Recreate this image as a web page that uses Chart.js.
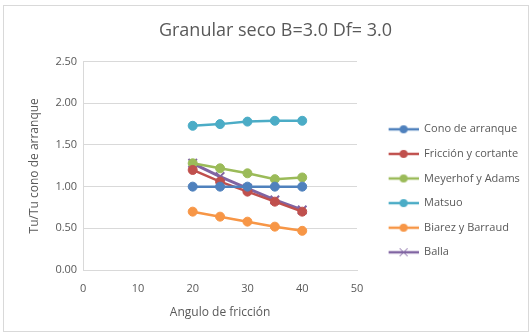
<!DOCTYPE html>
<html>
<head>
<meta charset="utf-8">
<script src="https://cdn.jsdelivr.net/npm/chart.js@4.4.1/dist/chart.umd.min.js"></script>
<style>
  html, body { margin: 0; padding: 0; background: #fff; }
  #wrap { position: absolute; left: 3px; top: 5px; width: 526px; height: 327px; border: 1px solid #d9d9d9; box-sizing: border-box; }
</style>
</head>
<body>
<div id="wrap"><canvas id="myChart"></canvas></div>
<script>
// angulo de friccion
var angulos = [20, 25, 30, 35, 40];

var cono     = [1.00, 1.00, 1.00, 1.00, 1.00];
var friccion = [1.20, 1.06, 0.94, 0.82, 0.70];
var meyerhof = [1.28, 1.22, 1.16, 1.09, 1.11];
var matsuo   = [1.73, 1.75, 1.78, 1.79, 1.79];
var biarez   = [0.70, 0.64, 0.58, 0.52, 0.47];
var balla    = [1.28, 1.12, 0.98, 0.84, 0.72];

var nombres = ["Cono de arranque", "Fricción y cortante", "Meyerhof y Adams", "Matsuo", "Biarez y Barraud", "Balla"];
var colores = ["#4F81BD", "#C0504D", "#9BBB59", "#4BACC6", "#F79646", "#8064A2"];
var series = [cono, friccion, meyerhof, matsuo, biarez, balla];

function pts(vals) {
  return vals.map(function (v, i) { return { x: angulos[i], y: v }; });
}

// line+marker icons for the legend (blank space on the left = gap to plot)
var ICON_W = 48;
function legendIcon(color, cross) {
  var c = document.createElement("canvas");
  c.width = ICON_W; c.height = 10;
  var ctx = c.getContext("2d");
  ctx.strokeStyle = color;
  ctx.lineWidth = 2.5;
  ctx.beginPath(); ctx.moveTo(18, 5); ctx.lineTo(48, 5); ctx.stroke();
  if (cross) {
    ctx.lineWidth = 1;
    ctx.beginPath();
    ctx.moveTo(29, 1); ctx.lineTo(37, 9);
    ctx.moveTo(37, 1); ctx.lineTo(29, 9);
    ctx.stroke();
  } else {
    ctx.fillStyle = color;
    ctx.beginPath(); ctx.arc(33, 5, 4, 0, Math.PI * 2); ctx.fill();
  }
  return c;
}

var datasets = series.map(function (s, i) {
  var isBalla = i == 5;
  return {
    label: nombres[i],
    data: pts(s),
    borderColor: colores[i],
    backgroundColor: colores[i],
    borderWidth: isBalla ? 3 : 2.5,
    pointStyle: isBalla ? "crossRot" : "circle",
    pointRadius: isBalla ? 6 : 4.5,
    pointBorderWidth: isBalla ? 2 : 1,
    showLine: true,
    tension: 0
  };
});

// fixed legend width so the plot ends where the reference plot ends
var legendFix = {
  id: "legendFix",
  beforeInit: function (chart) {
    var orig = chart.legend.fit;
    chart.legend.fit = function () {
      orig.bind(chart.legend)();
      this.width = 171;
    };
  }
};

var font = "'Open Sans', 'Liberation Sans', sans-serif";

var myChart = new Chart(document.getElementById("myChart"), {
  type: "scatter",
  data: { datasets: datasets },
  plugins: [legendFix],
  options: {
    responsive: true,
    maintainAspectRatio: false,
    animation: false,
    layout: { padding: { left: 19, right: 0, top: 8, bottom: 11 } },
    plugins: {
      title: {
        display: true,
        text: "Granular seco B=3.0 Df= 3.0",
        color: "#595959",
        font: { family: font, size: 18, weight: "normal" },
        padding: { top: 6, bottom: 20 }
      },
      legend: {
        position: "right",
        align: "start",
        title: { display: true, text: " ", padding: { top: 83, bottom: 0 }, font: { size: 11 } },
        labels: {
          color: "#595959",
          font: { family: font, size: 11 },
          boxWidth: ICON_W,
          boxHeight: 10,
          pointStyleWidth: ICON_W,
          padding: 13.6,
          usePointStyle: true,
          generateLabels: function (chart) {
            return chart.data.datasets.map(function (ds, i) {
              return {
                text: ds.label,
                fillStyle: ds.borderColor,
                strokeStyle: ds.borderColor,
                fontColor: "#595959",
                pointStyle: legendIcon(ds.borderColor, i == 5),
                datasetIndex: i,
                hidden: false
              };
            });
          }
        }
      },
      tooltip: { enabled: false }
    },
    scales: {
      x: {
        type: "linear",
        min: 0, max: 50,
        afterFit: function (scale) { scale.height = 50; },
        ticks: { stepSize: 10, color: "#595959", font: { family: font, size: 11 }, padding: 12 },
        grid: { display: false, drawTicks: false },
        border: { color: "#d9d9d9" },
        title: { display: true, text: "Angulo de fricción", color: "#595959", font: { family: font, size: 12 }, padding: { top: 0, bottom: 0 } }
      },
      y: {
        min: 0, max: 2.5,
        ticks: {
          stepSize: 0.5, color: "#595959", font: { family: font, size: 11 }, padding: 6,
          callback: function (v) { return v.toFixed(2); }
        },
        grid: { color: "#d9d9d9", drawTicks: false },
        border: { color: "#d9d9d9" },
        title: { display: true, text: "Tu/Tu cono de arranque", color: "#595959", font: { family: font, size: 12 }, padding: { bottom: 8 } }
      }
    }
  }
});
</script>
</body>
</html>
